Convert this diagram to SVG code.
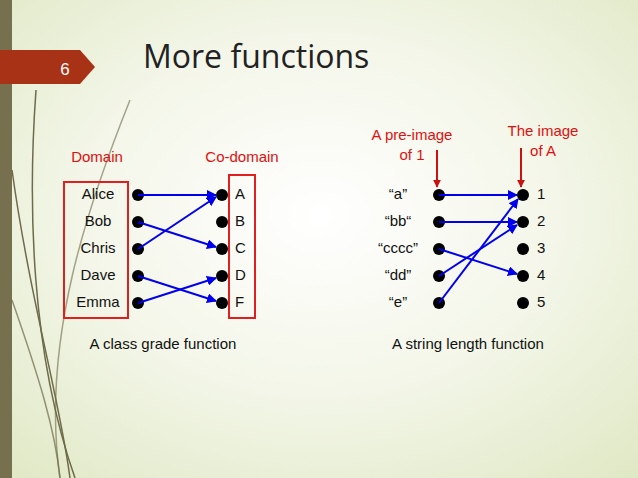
<svg xmlns="http://www.w3.org/2000/svg" width="638" height="478" viewBox="0 0 638 478">
<defs>
<radialGradient id="bg" cx="0.5" cy="0.45" r="0.75">
<stop offset="0" stop-color="#ffffff"/><stop offset="0.5" stop-color="#f3f6e8"/><stop offset="1" stop-color="#dfe8c4"/>
</radialGradient>
<marker id="ah" viewBox="0 0 10 10" refX="9" refY="5" markerWidth="5" markerHeight="5" orient="auto"><path d="M0,0L10,5L0,10z" fill="#0000ee"/></marker>
<marker id="rh" viewBox="0 0 10 10" refX="9" refY="5" markerWidth="4" markerHeight="4" orient="auto"><path d="M0,0L10,5L0,10z" fill="#cc1111"/></marker>
<style>
.t{font-family:"Liberation Sans",Arial,sans-serif;font-size:15px;fill:#111}
.r{font-family:"Liberation Sans",Arial,sans-serif;font-size:15px;fill:#e01010}
.d{fill:#000}
.a{stroke:#0000ee;stroke-width:2;fill:none;marker-end:url(#ah)}
.box{fill:none;stroke:#e02020;stroke-width:2}
.deco{fill:none;stroke:#6f6a48;stroke-width:1.5}
</style>
</defs>
<rect width="638" height="478" fill="url(#bg)"/>
<rect x="0" y="0" width="12" height="478" fill="#77704f"/>
<path class="deco" d="M36,90 C28,200 30,350 75,478"/>
<path class="deco" d="M12,170 C30,300 60,400 70,478"/>
<path class="deco" d="M130,100 C90,200 40,340 60,478" opacity="0.6"/>
<path class="deco" d="M12,300 C40,380 55,430 60,478" opacity="0.7"/>
<path d="M0,50 H80 L95,67 L80,84 H0z" fill="#a83216"/>
<text x="65" y="75" font-family="Liberation Sans,Arial,sans-serif" font-size="17" fill="#fff" text-anchor="middle">6</text>
<text x="143" y="68" font-family="Open Sans,Liberation Sans,sans-serif" font-size="32" fill="#222">More functions</text>

<g id="left">
<text class="r" x="97" y="162" text-anchor="middle">Domain</text>
<text class="r" x="242" y="162" text-anchor="middle">Co-domain</text>
<rect class="box" x="64" y="182" width="64" height="136"/>
<rect class="box" x="229" y="175" width="26" height="143"/>
<g class="t" text-anchor="middle">
<text class="t" x="98" y="199" text-anchor="middle">Alice</text>
<text class="t" x="98" y="226" text-anchor="middle">Bob</text>
<text class="t" x="98" y="253" text-anchor="middle">Chris</text>
<text class="t" x="98" y="280" text-anchor="middle">Dave</text>
<text class="t" x="98" y="307" text-anchor="middle">Emma</text>
</g>
<text class="t" x="235" y="199">A</text>
<text class="t" x="235" y="226">B</text>
<text class="t" x="235" y="253">C</text>
<text class="t" x="235" y="280">D</text>
<text class="t" x="235" y="307">F</text>
<g class="d">
<circle cx="138" cy="195" r="6"/><circle cx="138" cy="222" r="6"/><circle cx="138" cy="249" r="6"/><circle cx="138" cy="276" r="6"/><circle cx="138" cy="303" r="6"/>
<circle cx="222" cy="195" r="6"/><circle cx="222" cy="222" r="6"/><circle cx="222" cy="249" r="6"/><circle cx="222" cy="276" r="6"/><circle cx="222" cy="303" r="6"/>
</g>
<text class="t" x="163" y="349" text-anchor="middle">A class grade function</text>
</g>

<g id="right">
<text class="r" x="412" y="140" text-anchor="middle">A pre-image</text>
<text class="r" x="412" y="160" text-anchor="middle">of 1</text>
<text class="r" x="543" y="136" text-anchor="middle">The image</text>
<text class="r" x="543" y="156" text-anchor="middle">of A</text>
<line x1="437" y1="150" x2="437" y2="187" stroke="#cc1111" stroke-width="2" marker-end="url(#rh)"/>
<line x1="521" y1="148" x2="521" y2="187" stroke="#cc1111" stroke-width="2" marker-end="url(#rh)"/>
<text class="t" x="398" y="199" text-anchor="middle">“a”</text>
<text class="t" x="398" y="226" text-anchor="middle">“bb“</text>
<text class="t" x="398" y="253" text-anchor="middle">“cccc”</text>
<text class="t" x="398" y="280" text-anchor="middle">“dd”</text>
<text class="t" x="398" y="307" text-anchor="middle">“e”</text>
<text class="t" x="537" y="199">1</text>
<text class="t" x="537" y="226">2</text>
<text class="t" x="537" y="253">3</text>
<text class="t" x="537" y="280">4</text>
<text class="t" x="537" y="307">5</text>
<g class="d">
<circle cx="439" cy="195" r="6"/><circle cx="439" cy="222" r="6"/><circle cx="439" cy="249" r="6"/><circle cx="439" cy="276" r="6"/><circle cx="439" cy="303" r="6"/>
<circle cx="523" cy="195" r="6"/><circle cx="523" cy="222" r="6"/><circle cx="523" cy="249" r="6"/><circle cx="523" cy="276" r="6"/><circle cx="523" cy="303" r="6"/>
</g>
<text class="t" x="468" y="349" text-anchor="middle">A string length function</text>
</g>

<g id="connectors">
<line class="a" x1="138" y1="195" x2="216" y2="195"/>
<line class="a" x1="138" y1="222" x2="216" y2="247"/>
<line class="a" x1="138" y1="249" x2="216" y2="197"/>
<line class="a" x1="138" y1="276" x2="216" y2="301"/>
<line class="a" x1="138" y1="303" x2="216" y2="278"/>
<line class="a" x1="439" y1="195" x2="517" y2="195"/>
<line class="a" x1="439" y1="222" x2="517" y2="222"/>
<line class="a" x1="439" y1="249" x2="517" y2="274"/>
<line class="a" x1="439" y1="276" x2="517" y2="225"/>
<line class="a" x1="439" y1="303" x2="518" y2="199"/>
</g>
</svg>
